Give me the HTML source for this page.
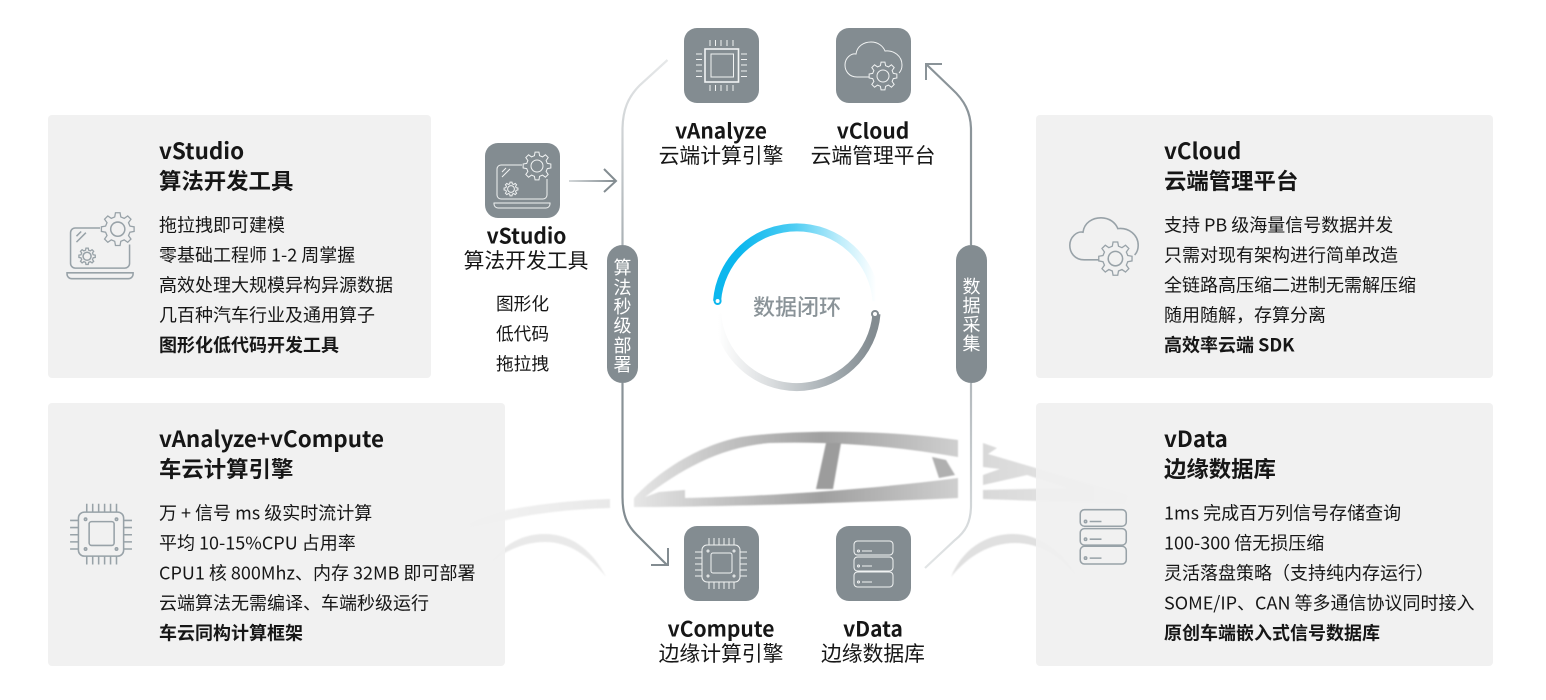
<!DOCTYPE html>
<html lang="zh-CN">
<head>
<meta charset="utf-8">
<title>数据闭环</title>
<style>
html,body{margin:0;padding:0;background:#fff;width:1546px;height:700px;overflow:hidden}
svg{display:block}
text{font-family:"Noto Sans CJK SC","Liberation Sans",sans-serif;fill:#161616}
.t{font-size:22.4px;font-weight:700}
.b{font-size:18px}
.bb{font-size:18px;font-weight:700}
.ct{font-size:21px;font-weight:700;text-anchor:middle}
.cs{font-size:20.8px;text-anchor:middle}
.cb{font-size:17.7px;text-anchor:middle}
.v{font-size:18px;fill:#fff;text-anchor:middle}
.w{fill:none;stroke:#f1f3f3;stroke-width:1}
.g{fill:none;stroke:#98a2a8;stroke-width:1.3}
.ns{vector-effect:non-scaling-stroke}
</style>
</head>
<body>
<svg width="1546" height="700" viewBox="0 0 1546 700" xmlns="http://www.w3.org/2000/svg">
<defs>
<filter id="soft" x="-5%" y="-5%" width="110%" height="110%"><feGaussianBlur stdDeviation=".7"/></filter>
<linearGradient id="car" gradientUnits="userSpaceOnUse" x1="634" y1="0" x2="958" y2="0">
<stop offset="0" stop-color="#e6e6e6"/><stop offset=".25" stop-color="#c6c6c6"/><stop offset=".58" stop-color="#a0a0a0"/><stop offset="1" stop-color="#cfcfcf"/></linearGradient>
<linearGradient id="carR" gradientUnits="userSpaceOnUse" x1="983" y1="0" x2="1130" y2="0">
<stop offset="0" stop-color="#d8d8d8"/><stop offset="1" stop-color="#ececec"/></linearGradient>
<linearGradient id="carL" gradientUnits="userSpaceOnUse" x1="440" y1="0" x2="610" y2="0">
<stop offset="0" stop-color="#f6f6f6"/><stop offset="1" stop-color="#e8e8e8"/></linearGradient>
<linearGradient id="l1" gradientUnits="userSpaceOnUse" x1="0" y1="60" x2="0" y2="245">
<stop offset="0" stop-color="#e6e8e9"/><stop offset="1" stop-color="#aab1b5"/></linearGradient>
<linearGradient id="l2" gradientUnits="userSpaceOnUse" x1="0" y1="383" x2="0" y2="566">
<stop offset="0" stop-color="#8a9398"/><stop offset="1" stop-color="#808a8f"/></linearGradient>
<linearGradient id="r1" gradientUnits="userSpaceOnUse" x1="0" y1="64" x2="0" y2="245">
<stop offset="0" stop-color="#8a9398"/><stop offset="1" stop-color="#8f989d"/></linearGradient>
<linearGradient id="r2" gradientUnits="userSpaceOnUse" x1="0" y1="383" x2="0" y2="568">
<stop offset="0" stop-color="#b3b9bd"/><stop offset="1" stop-color="#e2e5e6"/></linearGradient>
<linearGradient id="ar" gradientUnits="userSpaceOnUse" x1="569" y1="0" x2="616" y2="0">
<stop offset="0" stop-color="#d3d7d9"/><stop offset="1" stop-color="#838c91"/></linearGradient>
<linearGradient id="blue" gradientUnits="userSpaceOnUse" x1="740" y1="0" x2="876" y2="0">
<stop offset="0" stop-color="#0cb7ee"/><stop offset=".4" stop-color="#4fcdf3"/><stop offset=".75" stop-color="#c2eefb"/><stop offset="1" stop-color="#ffffff"/></linearGradient>
<linearGradient id="gray" gradientUnits="userSpaceOnUse" x1="718" y1="0" x2="872" y2="0">
<stop offset="0" stop-color="#ffffff"/><stop offset=".35" stop-color="#d9dcde"/><stop offset=".75" stop-color="#a3abb0"/><stop offset="1" stop-color="#838c91"/></linearGradient>

<path id="gear" class="ns" d="M.737,-.184L.99,-.139L.99,.139L.737,.184L.651,.391L.799,.602L.602,.799L.391,.651L.184,.737L.139,.99L-.139,.99L-.184,.737L-.391,.651L-.602,.799L-.799,.602L-.651,.391L-.737,.184L-.99,.139L-.99,-.139L-.737,-.184L-.651,-.391L-.799,-.602L-.602,-.799L-.391,-.651L-.184,-.737L-.139,-.99L.139,-.99L.184,-.737L.391,-.651L.602,-.799L.799,-.602L.651,-.391Z"/>

<g id="laptop">
<path d="M37,22H16a4,4 0 0 0 -4,4V52a4,4 0 0 0 4,4H58a4,4 0 0 0 4,-4V36"/>
<path d="M9,60H65V61a4,4 0 0 1 -4,4H13a4,4 0 0 1 -4,-4Z"/>
<path d="M17,34L25,26M17,29L21,25"/>
<use href="#gear" transform="translate(52,23) scale(14)"/>
<circle cx="52" cy="23" r="6"/>
<use href="#gear" transform="translate(26,46) scale(7)"/>
<circle cx="26" cy="46" r="3.4"/>
</g>

<g id="cloud">
<path d="M33,49H21C13,49 9,43 9,37C9,30 15,25 20,26C21,18 28,14 35,14C42,14 47,18 49,23C58,22 66,28 66,37C66,40 65,43 63,45"/>
<use href="#gear" transform="translate(47,48) scale(14)"/>
<circle cx="47" cy="48" r="6"/>
</g>

<g id="chip2">
<rect x="18" y="19" width="38" height="37" rx="5"/>
<rect x="27" y="27" width="21" height="20" rx="2"/>
<path d="M25,12V19M30,12V19M35,12V19M40,12V19M45,12V19M50,12V19M25,56V63M30,56V63M35,56V63M40,56V63M45,56V63M50,56V63M11,26H18M11,32H18M11,38H18M11,44H18M11,50H18M56,26H63M56,32H63M56,38H63M56,44H63M56,50H63"/>
<circle cx="24" cy="25" r="1"/><circle cx="50" cy="25" r="1"/><circle cx="24" cy="50" r="1"/><circle cx="50" cy="50" r="1"/>
</g>

<g id="data">
<rect x="18" y="15" width="39" height="14" rx="3.5"/>
<rect x="18" y="31" width="39" height="14" rx="3.5"/>
<rect x="18" y="46" width="39" height="15" rx="3.5"/>
<circle cx="22.5" cy="25" r="1"/><circle cx="22.5" cy="40" r="1"/><circle cx="22.5" cy="56" r="1"/>
<path d="M26,25H36M26,40H36M26,56H36"/>
</g>
</defs>

<rect width="1546" height="700" fill="#fff"/>

<!-- car silhouette -->
<g filter="url(#soft)">
<path fill="url(#car)" d="M634,498C650,480 690,447 741,437C790,430 880,429 958,440V457C900,447 840,441 769,443C720,447 680,470 645,497L659,492L685,490V498C740,497 850,492 958,478V498C870,502 720,507 634,507Z"/>
<path fill="#9c9c9c" d="M826,443H841L833,489H816Z"/>
<path fill="#b0b0b0" d="M932,457L946,460L955,475L939,478Z"/>
<path fill="url(#carR)" d="M983,443L997,448L988,454L1128,495L1125,504L983,499V490L1067,488L1027,475L983,485V475L1000,469L983,467Z"/>
<path fill="url(#carL)" d="M610,499V508C570,509 530,514 507,520C480,526 455,532 440,535C465,522 490,514 507,510C545,503 580,500 610,499Z"/>
<path fill="#e9e9e9" d="M490,564C505,542 525,534 545,534C575,534 595,555 606,577C590,557 570,542 545,542C525,542 505,550 490,564Z"/>
<path fill="#e0e0e0" d="M951,577C962,550 985,534 1013,534C1040,534 1065,553 1077,577C1060,556 1040,543 1015,543C990,543 968,556 951,577Z"/>
</g>

<!-- cards -->
<g fill="#f0f0f0" fill-opacity=".92">
<rect x="48" y="115" width="383" height="263" rx="4"/>
<rect x="48" y="403" width="457" height="263" rx="4"/>
<rect x="1036" y="115" width="457" height="263" rx="4"/>
<rect x="1036" y="403" width="457" height="263" rx="4"/>
</g>

<!-- connectors -->
<g fill="none" stroke-width="2.2">
<path stroke="url(#l1)" d="M667.5,60L640,85C628,97 622.5,110 622.5,130V245"/>
<path stroke="url(#l2)" d="M622.5,383V497C622.5,518 629,527 637,535L667,565"/>
<path stroke="url(#r1)" d="M926,64L952,89C964,100 971,112 971,130V245"/>
<path stroke="url(#r2)" d="M971,383V505C971,523 965,532 955,540L925,568"/>
</g>
<path fill="none" stroke="#838c91" stroke-width="2" d="M668,548V565H651"/>
<path fill="none" stroke="#8a9398" stroke-width="2" d="M942,64H926V80"/>
<path fill="none" stroke="url(#ar)" stroke-width="2" d="M569,181H616"/>
<path fill="none" stroke="#838c91" stroke-width="2" d="M604,169L616,181L604,192"/>

<rect x="607" y="245" width="31" height="138" rx="15.5" fill="#838c91"/>
<rect x="956" y="245" width="31" height="138" rx="15.5" fill="#838c91"/>
<text class="v" x="622.5" y="274">算</text>
<text class="v" x="622.5" y="294">法</text>
<text class="v" x="622.5" y="313">秒</text>
<text class="v" x="622.5" y="332">级</text>
<text class="v" x="622.5" y="352">部</text>
<text class="v" x="622.5" y="371">署</text>
<text class="v" x="971.5" y="293">数</text>
<text class="v" x="971.5" y="312">据</text>
<text class="v" x="971.5" y="331">采</text>
<text class="v" x="971.5" y="350">集</text>

<!-- ring -->
<path fill="none" stroke="url(#blue)" stroke-width="8" d="M717.05,301A80,80 0 0 1 876.55,301"/>
<path fill="none" stroke="url(#gray)" stroke-width="8" d="M876.5,314A80,80 0 0 1 717.1,314"/>
<circle cx="717.6" cy="301" r="3" fill="#fff" stroke="#0cb7ee" stroke-width="2"/>
<circle cx="875" cy="314" r="3" fill="#fff" stroke="#838c91" stroke-width="2"/>
<text x="797" y="315" text-anchor="middle" font-size="22" font-weight="500" style="fill:#8a9398">数据闭环</text>

<!-- tiles -->
<g fill="#838c91">
<rect x="684" y="28" width="75" height="75" rx="13"/>
<rect x="836" y="28" width="75" height="75" rx="13"/>
<rect x="485" y="143" width="75" height="75" rx="13"/>
<rect x="684" y="526" width="75" height="75" rx="13"/>
<rect x="836" y="526" width="75" height="75" rx="13"/>
</g>

<g transform="translate(684,28)" class="w">
<rect x="21" y="21" width="33.5" height="33" stroke-width="1.6"/>
<rect x="27" y="26" width="22.5" height="23"/>
<path d="M26,12V18M31.500,12V18M37,12V18M43,12V18M49,12V18M26,57V63M31.500,57V63M37,57V63M43,57V63M49,57V63M12,26H18M12,31.500H18M12,37H18M12,43H18M12,48.500H18M57,26H63M57,31.500H63M57,37H63M57,43H63M57,48.500H63"/>
</g>
<use href="#cloud" x="836" y="28" class="w"/>
<use href="#laptop" x="485" y="143" class="w"/>
<use href="#chip2" x="684" y="526" class="w"/>
<use href="#data" x="836" y="526" class="w"/>

<!-- card icons -->
<use href="#laptop" transform="translate(56.400,202) scale(1.18)" class="g"/>
<use href="#chip2" transform="translate(57,489.500) scale(1.19)" class="g"/>
<use href="#cloud" transform="translate(1059,201) scale(1.2)" class="g"/>
<use href="#data" transform="translate(1059,492) scale(1.18)" class="g"/>

<!-- centre labels -->
<text class="ct" x="526.500" y="243.500">vStudio</text>
<text class="cs" x="526" y="268">算法开发工具</text>
<text class="cb" x="522.500" y="310">图形化</text>
<text class="cb" x="522.500" y="340">低代码</text>
<text class="cb" x="522.500" y="370">拖拉拽</text>
<text class="ct" x="721" y="138.500">vAnalyze</text>
<text class="cs" x="721" y="163">云端计算引擎</text>
<text class="ct" x="873" y="138.500">vCloud</text>
<text class="cs" x="873" y="163">云端管理平台</text>
<text class="ct" x="721" y="636.500">vCompute</text>
<text class="cs" x="721" y="661">边缘计算引擎</text>
<text class="ct" x="873" y="636.500">vData</text>
<text class="cs" x="873" y="661">边缘数据库</text>

<!-- card A -->
<text class="t" x="159" y="159">vStudio</text>
<text class="t" x="159" y="189">算法开发工具</text>
<text class="b" x="159" y="231.500">拖拉拽即可建模</text>
<text class="b" x="159" y="261.500">零基础工程师 1-2 周掌握</text>
<text class="b" x="159" y="291.500">高效处理大规模异构异源数据</text>
<text class="b" x="159" y="321.500">几百种汽车行业及通用算子</text>
<text class="bb" x="159" y="351.500">图形化低代码开发工具</text>

<!-- card B -->
<text class="t" x="159" y="447">vAnalyze+vCompute</text>
<text class="t" x="159" y="477">车云计算引擎</text>
<text class="b" x="159" y="519.500">万 + 信号 ms 级实时流计算</text>
<text class="b" x="159" y="549.500">平均 10-15%CPU 占用率</text>
<text class="b" x="159" y="579.500">CPU1 核 800Mhz、内存 32MB 即可部署</text>
<text class="b" x="159" y="609.500">云端算法无需编译、车端秒级运行</text>
<text class="bb" x="159" y="639.500">车云同构计算框架</text>

<!-- card C -->
<text class="t" x="1164" y="159">vCloud</text>
<text class="t" x="1164" y="189">云端管理平台</text>
<text class="b" x="1164" y="231.500">支持 PB 级海量信号数据并发</text>
<text class="b" x="1164" y="261.500">只需对现有架构进行简单改造</text>
<text class="b" x="1164" y="291.500">全链路高压缩二进制无需解压缩</text>
<text class="b" x="1164" y="321.500">随用随解，存算分离</text>
<text class="bb" x="1164" y="351.500">高效率云端 SDK</text>

<!-- card D -->
<text class="t" x="1164" y="447">vData</text>
<text class="t" x="1164" y="477">边缘数据库</text>
<text class="b" x="1164" y="519.500">1ms 完成百万列信号存储查询</text>
<text class="b" x="1164" y="549.500">100-300 倍无损压缩</text>
<text class="b" x="1164" y="579.500">灵活落盘策略（支持纯内存运行）</text>
<text class="b" x="1164" y="609.500">SOME/IP、CAN 等多通信协议同时接入</text>
<text class="bb" x="1164" y="639.500">原创车端嵌入式信号数据库</text>
</svg>
</body>
</html>
